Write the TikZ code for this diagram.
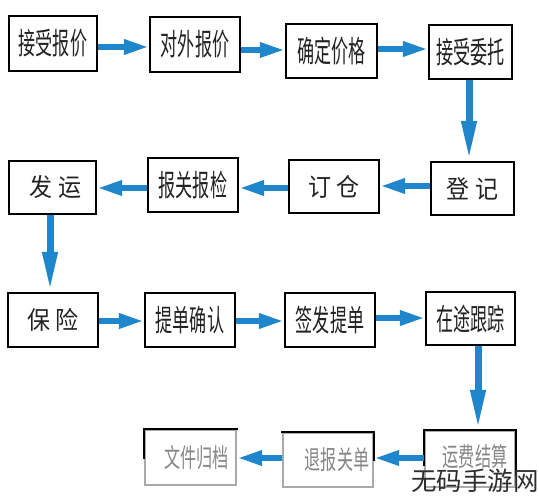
\documentclass[tikz,border=0pt]{standalone}
\usepackage{fontspec}
\usepackage{graphicx}
\newfontfamily\cjk{Noto Sans CJK SC}
\usetikzlibrary{arrows.meta}
\definecolor{arrblue}{RGB}{32,134,204}
\definecolor{txtdark}{RGB}{35,35,35}
\definecolor{txtgray}{RGB}{135,135,135}
\definecolor{edgegray}{RGB}{170,170,170}
\begin{document}
\begin{tikzpicture}[x=1pt,y=-1pt,
  box/.style={draw=black, line width=2.2pt, minimum width=90pt, minimum height=54pt, inner sep=0pt, fill=white,
    font=\cjk\fontsize{30}{30}\selectfont, text=txtdark},
  fadebox/.style={box, draw=edgegray, text=txtgray, font=\cjk\fontsize{26}{26}\selectfont},
  harr/.style={draw=arrblue, line width=6pt, -{Triangle[length=25pt,width=14pt]}},
  varr/.style={draw=arrblue, line width=7pt, -{Triangle[length=40pt,width=14pt]}},
  dark/.style={draw=black, line width=2.2pt, line cap=rect}
]
\useasboundingbox (0,0) rectangle (539,500);
\clip (0,0) rectangle (539,500);
\fill[white] (0,0) rectangle (539,500);
\newcommand{\four}[1]{\scalebox{0.57}[1]{#1}}
\newcommand{\fourg}[1]{\scalebox{0.62}[1]{#1}}
\newcommand{\two}[2]{{\fontsize{25}{25}\selectfont\scalebox{0.92}[1]{#1\hspace{0.25em}#2}}}
% row 1
\node[box, minimum width=88pt, minimum height=55pt] (a1) at (53,43.5) {\four{接受报价}};
\node[box, minimum height=55pt] (a2) at (195,44.5) {\four{对外报价}};
\node[box, minimum width=91pt] (a3) at (331.5,51) {\four{确定价格}};
\node[box, minimum width=83pt] (a4) at (470.5,52) {\four{接受委托}};
% row 2
\node[box, minimum width=87pt, minimum height=53pt] (b1) at (52.5,187.5) {\hspace{6pt}\two{发}{运}};
\node[box] (b2) at (193,185) {\four{报关报检}};
\node[box, minimum height=53pt] (b3) at (334,186.5) {\two{订}{仓}};
\node[box, minimum width=83pt, minimum height=53pt] (b4) at (472.5,188.5) {\two{登}{记}};
% row 3
\node[box] (c1) at (53,320) {\two{保}{险}};
\node[box] (c2) at (190,320) {\four{提单确认}};
\node[box] (c3) at (330,320) {\four{签发提单}};
\node[box, minimum width=89pt, minimum height=53pt] (c4) at (470.5,318.5) {\four{在途跟踪}};
% row 4
\node[fadebox, minimum width=91pt, minimum height=55pt] (d1) at (190.5,457.5) {\raisebox{-4pt}{\hspace{12pt}\fourg{文件归档}}};
\node[fadebox] (d2) at (328,460) {\raisebox{2pt}{\hspace{18pt}\fourg{退报关单}}};
\node[fadebox, minimum height=56pt] (d3) at (470,459) {\raisebox{7pt}{\hspace{10pt}\fourg{运费结算}}};
\draw[dark] (d1.west) -- (d1.north west) -- (d1.north east);
\draw[dark] (d2.north west) -- (d2.north east) -- (d2.east);
\draw[dark] ([yshift=-6pt]d3.west) -- (d3.north west) -- (d3.north east) -- ([yshift=-16pt]d3.east);
% connectors row 1
\draw[harr] (a1.east |- 0,47) -- (a2.west |- 0,47);
\draw[harr] (a2.east |- 0,50) -- (a3.west |- 0,50);
\draw[harr] (a3.east |- 0,49) -- (a4.west |- 0,49);
\draw[varr] (a4.south -| 469,0) -- (b4.north -| 469,0);
% row 2
\draw[harr] (b4.west |- 0,186) -- (b3.east |- 0,186);
\draw[harr] (b3.west |- 0,188) -- (b2.east |- 0,188);
\draw[harr] (b2.west |- 0,188) -- (b1.east |- 0,188);
\draw[varr] (b1.south -| 50,0) -- (c1.north -| 50,0);
% row 3
\draw[harr] (c1.east |- 0,321) -- (c2.west |- 0,321);
\draw[harr] (c2.east |- 0,321) -- (c3.west |- 0,321);
\draw[harr] (c3.east |- 0,318) -- (c4.west |- 0,318);
\draw[varr] (c4.south -| 478,0) -- (d3.north -| 478,0);
% row 4
\draw[harr] (d3.west |- 0,458) -- (d2.east |- 0,458);
\draw[harr] (d2.west |- 0,458) -- (d1.east |- 0,458);
% watermark
\node[anchor=west, inner sep=0pt, font=\cjk\fontsize{25.5}{25.5}\selectfont, text=black!82] (wm) at (411,481) {无码手游网};
\end{tikzpicture}
\end{document}
